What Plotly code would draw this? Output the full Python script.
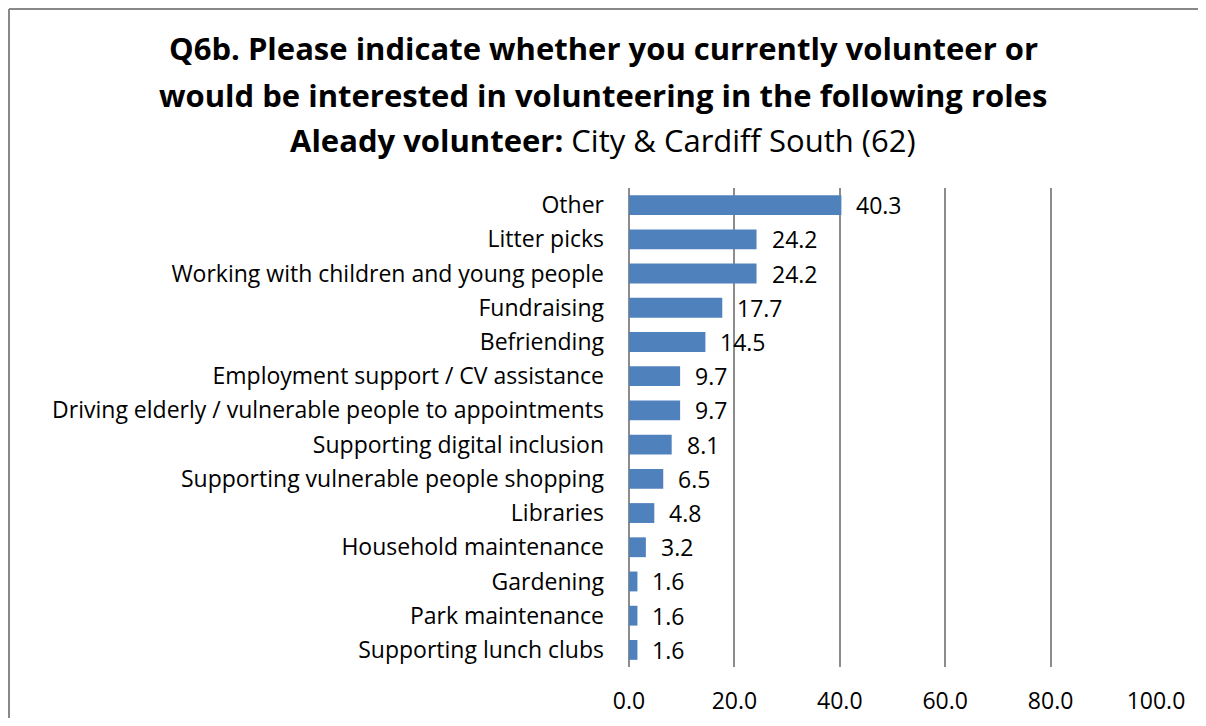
import plotly.graph_objects as go

categories = [
    "Other",
    "Litter picks",
    "Working with children and young people",
    "Fundraising",
    "Befriending",
    "Employment support / CV assistance",
    "Driving elderly / vulnerable people to appointments",
    "Supporting digital inclusion",
    "Supporting vulnerable people shopping",
    "Libraries",
    "Household maintenance",
    "Gardening",
    "Park maintenance",
    "Supporting lunch clubs",
]
values = [40.3, 24.2, 24.2, 17.7, 14.5, 9.7, 9.7, 8.1, 6.5, 4.8, 3.2, 1.6, 1.6, 1.6]
tick_vals = [0, 20, 40, 60, 80, 100]
tick_text = ["0.0", "20.0", "40.0", "60.0", "80.0", "100.0"]
title_lines = [
    "<b>Q6b. Please indicate whether you currently volunteer or</b>",
    "<b>would be interested in volunteering in the following roles</b>",
    "<b>Aleady volunteer:</b> City &amp; Cardiff South (62)",
]

FONT = "Open Sans"
BAR = "#4F81BD"
GRID = "#8c8c8c"
FS = 23

W, H = 1190, 710
L, R, T, B = 621, 42, 180, 51
pw, ph = W - L - R, H - T - B


def px_x(x):
    return (x - L) / pw


def px_y(y):
    return (H - B - y) / ph


fig = go.Figure()
fig.add_trace(go.Bar(
    x=values, y=categories, orientation="h",
    marker=dict(color=BAR, line=dict(width=0)),
    width=0.58,
))

for c, v in zip(categories, values):
    fig.add_annotation(
        x=v, y=c, text=f"{v:.1f}", showarrow=False,
        xanchor="left", yanchor="middle", xshift=13,
        font=dict(family=FONT, size=FS, color="#000"),
    )

# title lines
for line, yc in zip(title_lines, [40, 87, 132]):
    fig.add_annotation(
        x=px_x(595), y=px_y(yc), xref="paper", yref="paper",
        text=line, showarrow=False, xanchor="center", yanchor="middle",
        font=dict(family=FONT, size=31, color="#000"),
    )

# chart frame (left and top edges)
fx = px_x(1)
fy = px_y(1)
fig.add_shape(type="line", xref="paper", yref="paper", x0=fx, x1=fx, y0=px_y(H), y1=fy,
              line=dict(color="#888888", width=2))
fig.add_shape(type="line", xref="paper", yref="paper", x0=fx, x1=px_x(W), y0=fy, y1=fy,
              line=dict(color="#888888", width=2))

fig.update_layout(
    width=W, height=H,
    margin=dict(l=L, r=R, t=T, b=B, autoexpand=False),
    paper_bgcolor="white", plot_bgcolor="white",
    showlegend=False,
    font=dict(family=FONT, color="#000"),
    xaxis=dict(
        range=[0, 100], tickvals=tick_vals, ticktext=tick_text,
        showgrid=True, gridcolor=GRID, gridwidth=1.5,
        zeroline=True, zerolinecolor=GRID, zerolinewidth=1.5,
        showline=False, ticks="", ticklabelstandoff=18,
        tickfont=dict(family=FONT, size=FS, color="#000"),
        fixedrange=True, automargin=False,
    ),
    yaxis=dict(
        categoryorder="array", categoryarray=categories[::-1],
        range=[-0.5, len(categories) - 0.5],
        showgrid=False, zeroline=False, showline=False,
        ticks="", ticklabelstandoff=24,
        tickfont=dict(family=FONT, size=FS, color="#000"),
        fixedrange=True, automargin=False,
    ),
)

fig.write_html(
    "out.html",
    config={"displayModeBar": False},
    post_script="document.body.style.overflow='hidden';",
)
